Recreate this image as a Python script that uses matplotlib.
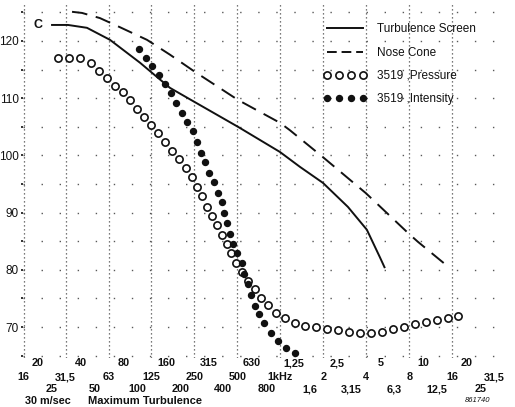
import matplotlib.pyplot as plt
from matplotlib.lines import Line2D
from matplotlib.transforms import blended_transform_factory

plt.rcParams['font.family'] = ['Liberation Sans', 'DejaVu Sans']

# third-octave levels in dB, frequency in Hz
screen_freq = [24.9, 32.7, 44.4, 64.3, 104.3, 169.1, 252.8, 505.3, 993.8, 1371,
               1986, 2970, 4032, 4972, 5390]
screen_db = [122.8, 122.8, 122.3, 120.2, 116.2, 111.8, 109.3, 105.0, 100.6, 98.0,
             95.2, 91.0, 87.0, 82.2, 80.3]

cone_freq = [34.9, 41.0, 54.7, 75.6, 116.7, 169.1, 252.8, 505.3, 993.8, 1167,
             1986, 3967, 7931, 9169, 15350]
cone_db = [125.1, 124.9, 124.0, 122.4, 120.2, 117.6, 114.6, 109.7, 105.7, 104.4,
           99.7, 93.4, 86.3, 84.9, 80.3]

pressure_freq = [27.9, 33.3, 39.7, 47.4, 53.9, 61.3, 69.7, 79.3, 88.8, 99.4,
                 111, 124, 139, 156, 175, 195, 219, 241, 261, 283,
                 307, 332, 360, 391, 423, 451, 489, 539, 594, 665,
                 732, 819, 932, 1077, 1265, 1486, 1774, 2118, 2528, 3018,
                 3603, 4302, 5135, 6130, 7318, 8737, 10430, 12450, 14860, 17460]
pressure_db = [117.0, 117.0, 117.0, 116.2, 114.8, 113.5, 112.1, 111.1, 109.7, 108.1,
               106.7, 105.3, 103.9, 102.3, 100.8, 99.4, 97.8, 96.2, 94.5, 92.9,
               91.0, 89.4, 87.8, 86.1, 84.5, 82.9, 81.2, 79.6, 78.0, 76.6,
               75.1, 73.8, 72.4, 71.6, 70.7, 70.2, 70.0, 69.7, 69.5, 69.1,
               69.0, 69.0, 69.1, 69.7, 70.0, 70.5, 70.8, 71.2, 71.6, 71.9]

intensity_freq = [102.6, 114.9, 126.5, 141.6, 156.0, 171.8, 186.2, 205.1, 222.4, 244.9,
                  261.2, 278.5, 297.0, 316.7, 343.3, 366.1, 390.5, 403.2, 423.4, 444.3,
                  466.2, 497.2, 539, 556.7, 593.6, 623.1, 664.6, 708.7, 768.1, 859.9,
                  962.4, 1095, 1265]
intensity_db = [118.6, 117.0, 115.6, 114.1, 112.5, 110.9, 109.2, 107.4, 105.8, 104.3,
                102.3, 100.5, 98.8, 97.0, 95.3, 93.5, 91.8, 89.9, 88.1, 86.2,
                84.5, 82.9, 81.2, 79.3, 77.5, 75.6, 73.7, 72.3, 70.7, 69.0,
                67.6, 66.3, 65.5]

# three rows of band labels under the plot
row1_freq = [20, 40, 80, 160, 315, 630, 1250, 2500, 5000, 10000, 20000]
row1_text = ['20', '40', '80', '160', '315', '630', '1,25', '2,5', '5', '10', '20']
row2_freq = [16, 31.5, 63, 125, 250, 500, 1000, 2000, 4000, 8000, 16000, 31500]
row2_text = ['16', '31,5', '63', '125', '250', '500', '1kHz', '2', '4', '8', '16', '31,5']
row3_freq = [25, 50, 100, 200, 400, 800, 1600, 3150, 6300, 12500, 25000]
row3_text = ['25', '50', '100', '200', '400', '800', '1,6', '3,15', '6,3', '12,5', '25']

db_ticks = [70, 80, 90, 100, 110, 120]

fig = plt.figure(figsize=(5.15, 4.07), dpi=100)
ax = fig.add_axes([0.0447, 0.1192, 0.9437, 0.8715])
ax.set_xscale('log')
ax.set_xlim(10 ** 1.2, 10 ** 4.6)
ax.set_ylim(64.5, 126.5)
for s in ax.spines.values():
    s.set_visible(False)

# dotted octave grid and sparse 5 dB rows
for f in row2_freq[:-1]:
    ax.axvline(f, color='0.3', lw=0.9, ls=(0, (1, 2.2)), zorder=0.5)
for lvl in range(65, 126, 5):
    ax.axhline(lvl, color='0.35', lw=1.0, ls=(0, (1, 12)), zorder=0.5)

ink = '#111111'
ax.plot(screen_freq, screen_db, color=ink, lw=1.4, solid_capstyle='butt')
ax.plot(cone_freq, cone_db, color=ink, lw=1.4, dashes=(8, 4.5))
ax.plot(pressure_freq, pressure_db, ls='none', marker='o', ms=5.2,
        mfc='white', mec=ink, mew=1.2)
ax.plot(intensity_freq, intensity_db, ls='none', marker='o', ms=4.3,
        mfc=ink, mec=ink)

ax.set_yticks(db_ticks)
ax.set_yticklabels([str(v) for v in db_ticks], fontsize=8.5, color=ink)
ax.set_yticks(range(65, 126, 5), minor=True)
ax.tick_params(axis='y', which='both', length=1.5, width=1.2, pad=1.5, colors=ink)
ax.set_xticks([])
ax.set_xticks([], minor=True)

ax.text(10 ** 1.2 + 3, 122.8, 'C', fontsize=9, fontweight='bold', color=ink,
        va='center', ha='left')

trans = blended_transform_factory(ax.transData, fig.transFigure)
for freqs, texts, yy in [(row1_freq, row1_text, 1 - 363 / 407),
                         (row2_freq, row2_text, 1 - 377 / 407),
                         (row3_freq, row3_text, 1 - 389 / 407)]:
    for f, t in zip(freqs, texts):
        ax.text(f, yy, t, transform=trans, ha='center', va='center',
                fontsize=7.8, fontweight='bold', color=ink, clip_on=False)

fig.text(48 / 515, 1 - 401 / 407, '30 m/sec', ha='center', va='center',
         fontsize=7.8, fontweight='bold', color=ink)
fig.text(145 / 515, 1 - 401 / 407, 'Maximum Turbulence', ha='center', va='center',
         fontsize=8, fontweight='bold', color=ink)
fig.text(478 / 515, 1 - 401 / 407, '861740', ha='center', va='center',
         fontsize=5.5, style='italic', color=ink)

handles = [
    Line2D([], [], color=ink, lw=1.4),
    Line2D([], [], color=ink, lw=1.4, dashes=(5, 2.5)),
    Line2D([], [], ls='none', marker='o', ms=5.2, mfc='white', mec=ink, mew=1.2),
    Line2D([], [], ls='none', marker='o', ms=4.3, mfc=ink, mec=ink),
]
labels = ['Turbulence Screen', 'Nose Cone', '3519 ,Pressure', '3519 ,Intensity']
leg = fig.legend(handles, labels, loc='upper left',
                 bbox_to_anchor=(323 / 515, 1 - 23.5 / 407),
                 frameon=False, fontsize=8.5, numpoints=4, handlelength=3.7,
                 handletextpad=0.85, labelspacing=0.95, borderpad=0,
                 borderaxespad=0)
for t in leg.get_texts():
    t.set_color(ink)

fig.savefig('out.png', dpi=100)
